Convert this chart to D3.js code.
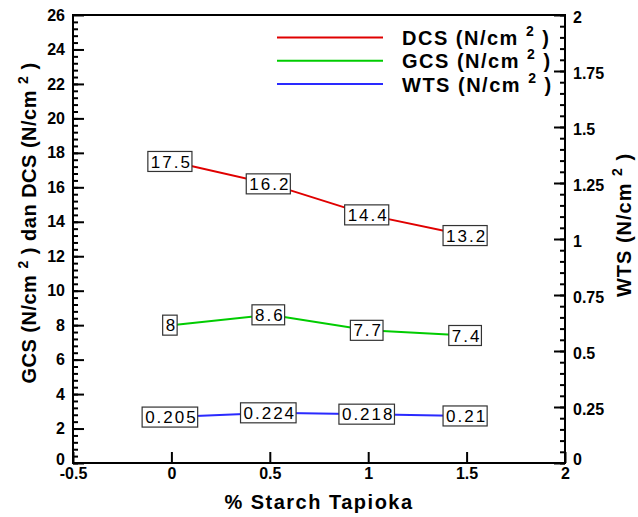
<!DOCTYPE html>
<html>
<head>
<meta charset="utf-8">
<script src="https://cdn.jsdelivr.net/npm/d3@7"></script>
<style>
  body { margin: 0; background: #fff; }
  svg text { font-family: "Liberation Sans", Arial, sans-serif; }
</style>
</head>
<body>
<div id="chart"></div>
<script>
// data
const starch = [0, 0.5, 1, 1.5];
const dcs = [17.5, 16.2, 14.4, 13.2];
const gcs = [8, 8.6, 7.7, 7.4];
const wts = [0.205, 0.224, 0.218, 0.21];

const xTicks = [-0.5, 0, 0.5, 1, 1.5, 2];
const leftTicks = d3.range(0, 27, 2);
const rightTicks = [0, 0.25, 0.5, 0.75, 1, 1.25, 1.5, 1.75, 2];

const series = [
    { name: "DCS", values: dcs, axis: "left", color: "#e00000" },
    { name: "GCS", values: gcs, axis: "left", color: "#00cc00" },
    { name: "WTS", values: wts, axis: "right", color: "#2a2aff" }
];

const margin = { top: 15, right: 73, bottom: 54, left: 73 };
const width = 638 - margin.left - margin.right;
const height = 517 - margin.top - margin.bottom;

const svg = d3.select("#chart").append("svg")
    .attr("width", 638)
    .attr("height", 517)
    .append("g")
    .attr("transform", `translate(${margin.left}, ${margin.top})`);

const x = d3.scaleLinear().domain([-0.5, 2]).range([0, width]);
const yL = d3.scaleLinear().domain([0, 26]).range([height, 0]);
const yR = d3.scaleLinear().domain([0, 2]).range([height, 0]);

function styleAxis(g) {
    g.select(".domain").remove();
    g.selectAll("line").attr("stroke", "#000").attr("stroke-width", 2);
    g.selectAll("text")
        .attr("fill", "#000")
        .style("font-size", "16px")
        .style("font-weight", "bold");
}

// minor ticks
svg.append("g")
    .call(d3.axisLeft(yL).tickValues(d3.range(0, 65).map(i => i * 0.4)).tickSize(-5).tickFormat(""))
    .call(styleAxis);
svg.append("g")
    .attr("transform", `translate(${width},0)`)
    .call(d3.axisRight(yR).tickValues(d3.range(0, 41).map(i => i * 0.05)).tickSize(-5).tickFormat(""))
    .call(styleAxis);

// major ticks
svg.append("g")
    .call(d3.axisLeft(yL).tickValues(leftTicks).tickSize(-11).tickPadding(8).tickFormat(d3.format("d")))
    .call(styleAxis)
    .selectAll("text").filter(d => d === 0).attr("dy", "0.1em");
svg.append("g")
    .attr("transform", `translate(${width},0)`)
    .call(d3.axisRight(yR).tickValues(rightTicks).tickSize(-11).tickPadding(8).tickFormat(d => String(d)))
    .call(styleAxis)
    .selectAll("text").attr("dy", d => d === 0 ? "0.1em" : "0.45em");
svg.append("g")
    .attr("transform", `translate(0,${height})`)
    .call(d3.axisBottom(x).tickValues(xTicks).tickSize(-11).tickPadding(5).tickFormat(d => String(d)))
    .call(styleAxis);

// frame
svg.append("rect")
    .attr("width", width)
    .attr("height", height)
    .attr("fill", "none")
    .attr("stroke", "#000")
    .attr("stroke-width", 2);

// lines
series.forEach(s => {
    const y = s.axis === "left" ? yL : yR;
    const line = d3.line().x((d, i) => x(starch[i])).y(d => y(d));
    svg.append("path")
        .datum(s.values)
        .attr("fill", "none")
        .attr("stroke", s.color)
        .attr("stroke-width", 2)
        .attr("d", line);
});

// value labels in boxes
series.forEach(s => {
    const y = s.axis === "left" ? yL : yR;
    s.values.forEach((v, i) => {
        const g = svg.append("g").attr("transform", `translate(${x(starch[i])},${y(v)})`);
        const t = g.append("text")
            .attr("text-anchor", "middle")
            .attr("dy", "0.36em")
            .style("font-size", "17px")
            .style("letter-spacing", "2px")
            .text(String(v));
        const bb = t.node().getBBox();
        g.insert("rect", "text")
            .attr("x", bb.x - 3)
            .attr("y", -10)
            .attr("width", bb.width + 3)
            .attr("height", 20)
            .attr("fill", "#fff")
            .attr("stroke", "#333")
            .attr("stroke-width", 1.2);
    });
});

// legend
function unitText(sel, prefix, size) {
    sel.append("tspan").text(prefix + " (N/cm ");
    sel.append("tspan").attr("dy", -size * 0.45).style("font-size", (size * 0.7) + "px").text("2");
    sel.append("tspan").attr("dy", size * 0.45).text(" )");
}

const legend = svg.append("g");
series.forEach((s, i) => {
    const ly = 22.5 + i * 23.3;
    legend.append("line")
        .attr("x1", 204).attr("x2", 310)
        .attr("y1", ly).attr("y2", ly)
        .attr("stroke", s.color)
        .attr("stroke-width", 2);
    legend.append("text")
        .attr("x", 329)
        .attr("y", ly + 7.5)
        .style("font-size", "20px")
        .style("font-weight", "bold")
        .style("letter-spacing", "1.5px")
        .call(unitText, s.name, 20);
});

// axis titles
svg.append("text")
    .attr("x", width / 2)
    .attr("y", height + 46)
    .attr("text-anchor", "middle")
    .style("font-size", "20px")
    .style("font-weight", "bold")
    .style("letter-spacing", "1.5px")
    .text("% Starch Tapioka");

svg.append("text")
    .attr("transform", `translate(${-37},${208}) rotate(-90)`)
    .attr("text-anchor", "middle")
    .style("font-size", "20px")
    .style("font-weight", "bold")
    .style("letter-spacing", "0.5px")
    .call(sel => {
        sel.append("tspan").text("GCS (N/cm ");
        sel.append("tspan").attr("dy", -8).style("font-size", "14px").text("2");
        sel.append("tspan").attr("dy", 8).text(" ) dan DCS (N/cm ");
        sel.append("tspan").attr("dy", -8).style("font-size", "14px").text("2");
        sel.append("tspan").attr("dy", 8).text(" )");
    });

svg.append("text")
    .attr("transform", `translate(${width + 66},${210}) rotate(-90)`)
    .attr("text-anchor", "middle")
    .style("font-size", "20px")
    .style("font-weight", "bold")
    .style("letter-spacing", "1px")
    .call(unitText, "WTS", 20);
</script>
</body>
</html>
